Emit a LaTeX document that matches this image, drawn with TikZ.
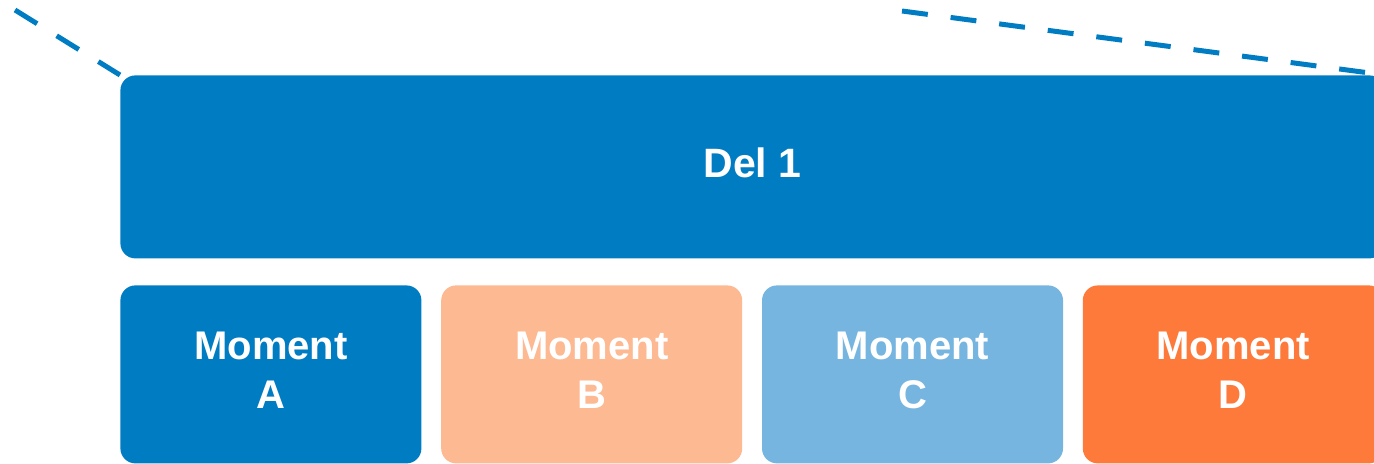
\documentclass[tikz,border=0pt]{standalone}
\usepackage{fontspec}
\setmainfont{Liberation Sans}
\usepackage{xcolor}
\usetikzlibrary{positioning}

\definecolor{delblue}{HTML}{007CC3}
\definecolor{peach}{HTML}{FDB991}
\definecolor{skyblue}{HTML}{76B5DF}
\definecolor{tangerine}{HTML}{FD7A3A}

\begin{document}
\begin{tikzpicture}[x=0.5pt, y=-0.5pt, node distance=9.5pt]
\tikzset{
part/.style     = {shape=rectangle, rounded corners=7.5pt, fill=delblue, text=white, inner sep=0pt, text depth=4pt,
                   font=\bfseries\fontsize{20.5}{24.5}\selectfont, minimum width=632pt, minimum height=91.5pt},
moment/.style   = {shape=rectangle, rounded corners=7.5pt, text=white, inner sep=0pt, align=center, text depth=4pt,
                   font=\bfseries\fontsize{20}{24.5}\selectfont, minimum width=150.5pt, minimum height=89pt},
guide/.style    = {draw=delblue, line width=2.5pt, dash pattern=on 13pt off 11.5pt},
}
    \useasboundingbox (0,0) rectangle (1374,464);
    \clip (0,0) rectangle (1374,464);

    % Part node
    \node [part, anchor=north west]          (del_one)   at (120,75) {Del 1};

    % Moment nodes
    \node [moment, fill=delblue, anchor=north west] (moment_a) at (120,285) {Moment\\A};
    \node [moment, fill=peach, right=of moment_a]     (moment_b) {Moment\\B};
    \node [moment, fill=skyblue, right=of moment_b]   (moment_c) {Moment\\C};
    \node [moment, fill=tangerine, right=of moment_c] (moment_d) {Moment\\D};

    % Guide lines
    \coordinate (guide_left)  at (15,10);
    \coordinate (guide_right) at (902,11);
    \draw [guide] (guide_left)  -- (del_one.north west);
    \draw [guide] (guide_right) -- (del_one.north east);

\end{tikzpicture}
\end{document}
